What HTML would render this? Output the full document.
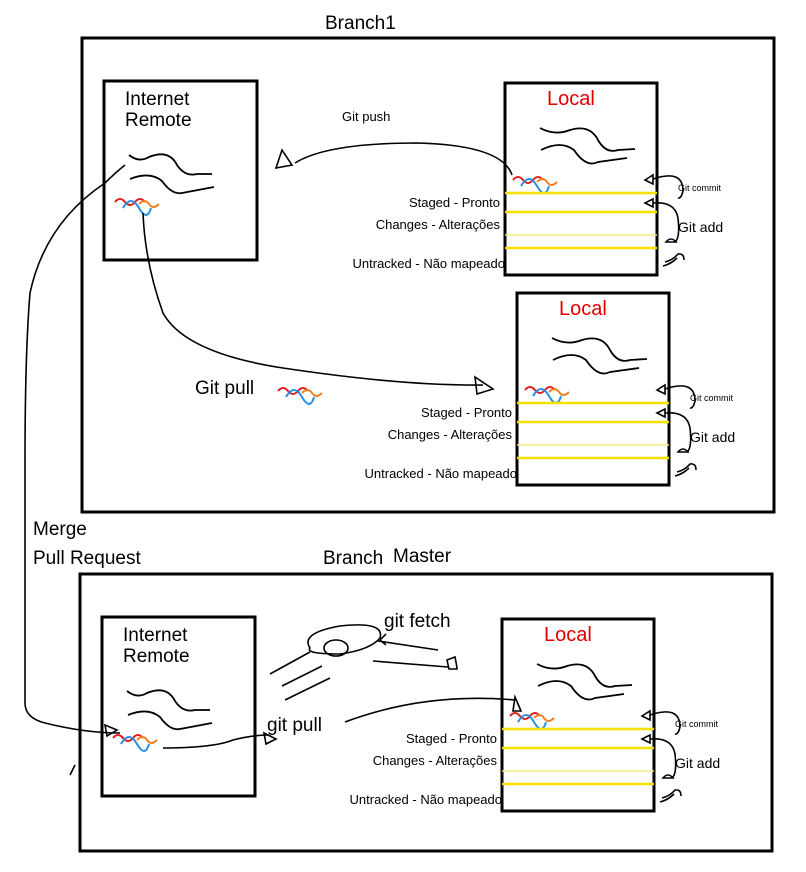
<!DOCTYPE html>
<html><head><meta charset="utf-8"><style>
html,body{margin:0;padding:0;background:#fff;}
svg{display:block;font-family:"Liberation Sans","DejaVu Sans",sans-serif;}
</style></head><body>
<svg width="806" height="872" viewBox="0 0 806 872" xmlns="http://www.w3.org/2000/svg">
<defs>
<g id="cs">
 <path d="M0,0 q5,-6 10,0 t10,0 t10,0" stroke="#e02020" fill="none" stroke-width="2"/>
 <path d="M8,6 q8,-14 16,0 t12,0" stroke="#2a8fe0" fill="none" stroke-width="2"/>
 <path d="M24,2 q6,-6 10,0 t10,0" stroke="#f08020" fill="none" stroke-width="2"/>
</g>
<g id="local">
 <rect x="505" y="83" width="152" height="192" fill="none" stroke="#000" stroke-width="3"/>
 <text x="547" y="105" font-size="20" fill="#e00000">Local</text>
 <path d="M540,128 q15,8 30,2 q20,-6 28,10 q8,14 20,10 l17,-1" stroke="#000" fill="none" stroke-width="1.8"/>
 <path d="M541,150 q20,-10 33,0 q12,18 24,12 l29,-4" stroke="#000" fill="none" stroke-width="1.8"/>
 <use href="#cs" x="513" y="180"/>
 <line x1="505" y1="193" x2="657" y2="193" stroke="#f5e000" stroke-width="2.5"/>
 <line x1="505" y1="212" x2="657" y2="212" stroke="#f5e000" stroke-width="2.5"/>
 <line x1="505" y1="235" x2="657" y2="235" stroke="#f5ec80" stroke-width="1.5"/>
 <line x1="505" y1="248" x2="657" y2="248" stroke="#f5e000" stroke-width="2.5"/>
 <text x="500" y="207" font-size="13" text-anchor="end">Staged - Pronto</text>
 <text x="500" y="229" font-size="13" text-anchor="end">Changes - Alterações</text>
 <text x="505" y="268" font-size="13" text-anchor="end">Untracked - Não mapeado</text>
 <text x="678" y="191" font-size="9">Git commit</text>
 <text x="678" y="232" font-size="14">Git add</text>
 <path d="M645,180 l8,-5 l0,9 z M653,179 q30,-10 30,12 q-2,8 -5,7" stroke="#000" fill="none" stroke-width="1.6"/>
 <path d="M645,203 l8,-4 l0,8 z M653,203 q22,-2 25,15 q2,18 -2,23 M666,242 q5,-6 10,0 z" stroke="#000" fill="none" stroke-width="1.6"/>
 <path d="M665,262 q8,-2 13,-8 q6,-1 6,6 M663,266 q8,-2 14,-8" stroke="#000" fill="none" stroke-width="1.6"/>
</g>
<g id="remote">
 <rect x="104" y="81" width="153" height="179" fill="none" stroke="#000" stroke-width="3"/>
 <text x="125" y="105" font-size="19">Internet</text>
 <text x="125" y="126" font-size="19">Remote</text>
 <path d="M129,155 q10,8 20,2 q20,-8 28,8 q8,12 20,9 l15,0" stroke="#000" fill="none" stroke-width="1.8"/>
 <path d="M130,179 q20,-8 32,2 q10,14 20,12 l32,-6" stroke="#000" fill="none" stroke-width="1.8"/>
 <use href="#cs" x="115" y="202"/>
</g>
</defs>

<text x="325" y="29" font-size="19">Branch1</text>
<rect x="82" y="38" width="692" height="474" fill="none" stroke="#000" stroke-width="3"/>
<use href="#remote"/>
<use href="#local"/>
<use href="#local" transform="translate(12,210)"/>

<text x="342" y="121" font-size="13">Git push</text>
<path d="M512,175 q-10,-30 -95,-32 q-90,0 -122,20" stroke="#000" fill="none" stroke-width="1.6"/>
<path d="M282,150 l-6,18 l16,-3 z" stroke="#000" fill="none" stroke-width="1.6"/>
<path d="M143,213 q2,50 20,100 q22,40 120,55 q120,18 200,17" stroke="#000" fill="none" stroke-width="1.6"/>
<path d="M475,377 l18,12 l-16,5 z" stroke="#000" fill="none" stroke-width="1.6"/>
<text x="195" y="394" font-size="19">Git pull</text>
<use href="#cs" x="278" y="391"/>

<text x="33" y="535" font-size="19">Merge</text>
<text x="33" y="564" font-size="19">Pull Request</text>
<text x="323" y="564" font-size="19">Branch</text>
<text x="393" y="562" font-size="19">Master</text>

<path d="M125,165 q-10,8 -20,18 q-60,40 -75,110 q-5,60 -5,170 l0,240 q0,15 20,20 q40,10 75,10" stroke="#000" fill="none" stroke-width="1.6"/>
<path d="M105,725 l12,5 l-10,6 z" stroke="#000" fill="none" stroke-width="1.6"/>
<path d="M70,775 l5,-10" stroke="#000" stroke-width="1.6"/>

<rect x="80" y="574" width="692" height="277" fill="none" stroke="#000" stroke-width="3"/>
<use href="#remote" transform="translate(-2,536)"/>
<use href="#local" transform="translate(-3,536)"/>

<text x="384" y="627" font-size="19">git fetch</text>
<path d="M310,648 q-10,-15 30,-22 q45,-5 40,12 q-10,12 -40,16 q-35,0 -30,-6 z" stroke="#000" fill="none" stroke-width="1.6"/>
<ellipse cx="336" cy="648" rx="12" ry="8" stroke="#000" fill="none" stroke-width="1.6"/>
<path d="M378,641 l60,9 M380,640 l6,-6 M380,640 l6,5" stroke="#000" fill="none" stroke-width="1.6"/>
<path d="M373,661 l75,6 M447,660 l8,-3 q2,10 2,12 l-8,0 z" stroke="#000" fill="none" stroke-width="1.6"/>
<path d="M270,674 l40,-22 M282,686 l40,-20 M285,700 l45,-22" stroke="#000" fill="none" stroke-width="1.6"/>
<text x="267" y="731" font-size="19">git pull</text>
<path d="M345,722 q80,-30 170,-22" stroke="#000" fill="none" stroke-width="1.6"/>
<path d="M515,697 l6,14 l-8,0 z" stroke="#000" fill="none" stroke-width="1.6"/>
<path d="M163,748 q50,0 70,-8 q20,-5 35,-5" stroke="#000" fill="none" stroke-width="1.6"/>
<path d="M264,733 l12,6 l-10,5 z" stroke="#000" fill="none" stroke-width="1.6"/>
</svg>
</body></html>
